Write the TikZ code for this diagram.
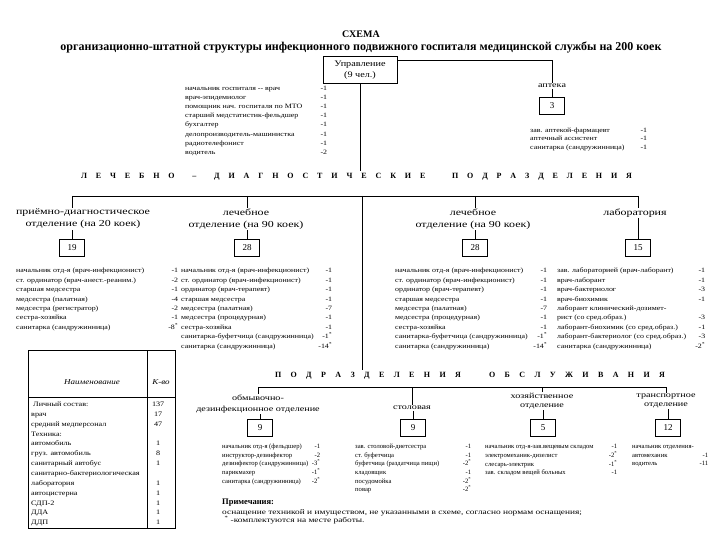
\documentclass[tikz,border=0pt]{standalone}
\usepackage{fontspec}
\usepackage{array}
\setmainfont{Liberation Serif}
\newfontfamily\wfont[FakeStretch=1.2]{Liberation Serif}
\newfontfamily\wwfont[FakeStretch=1.3]{Liberation Serif}
\newcolumntype{R}[1]{>{\raggedleft\arraybackslash}p{#1}}
\newcommand{\st}{\textsuperscript{*}}
\tikzset{
  nbox/.style={draw, line width=0.7pt, minimum width=25pt, minimum height=17pt, inner sep=0pt, font=\fontsize{9}{10}\selectfont},
  lbl/.style={font=\wwfont\fontsize{9.2}{12}\selectfont, align=center, inner sep=1pt},
  slbl/.style={font=\wwfont\fontsize{7.8}{11}\selectfont, align=center, inner sep=1pt},
  lst/.style={font=\wfont\fontsize{6.6}{9.4}\selectfont, anchor=north west, inner sep=0pt},
  slst/.style={font=\fontsize{6.6}{8.5}\selectfont, anchor=north west, inner sep=0pt},
  hdr/.style={font=\fontsize{8}{10}\selectfont\bfseries, inner sep=2pt},
  ln/.style={line width=0.6pt},
}
\begin{document}
\begin{tikzpicture}[x=1pt,y=-1pt]
\useasboundingbox (0,0) rectangle (720,540);
\fill[white] (0,0) rectangle (720,540);

% title
\node[font=\fontsize{10}{12}\selectfont\bfseries] (title) at (361,34) {СХЕМА};
\node[font=\fontsize{12}{14}\selectfont\bfseries] (subtitle) at (361,48) {организационно-штатной структуры инфекционного подвижного госпиталя медицинской службы на 200 коек};

% management
\node[draw, line width=0.7pt, minimum width=74pt, minimum height=27pt, align=center, font=\wfont\fontsize{8.5}{11}\selectfont, inner sep=0pt] (upr) at (360,70) {Управление\\(9 чел.)};
\node[lst, font=\wfont\fontsize{6.6}{9.2}\selectfont] (uprlist) at (185,83.5) {\begin{tabular}{@{}p{128pt}@{}R{14pt}@{}}
начальник госпиталя -- врач & -1\\
врач-эпидемиолог & -1\\
помощник нач. госпиталя по МТО & -1\\
старший медстатистик-фельдшер & -1\\
бухгалтер & -1\\
делопроизводитель-машинистка & -1\\
радиотелефонист & -1\\
водитель & -2
\end{tabular}};

\node[slbl] (apt) at (552,86) {аптека};
\node[nbox] (b3) at (552,106) {3};
\draw[ln] ([yshift=-4pt]upr.north east) -| (apt.north);
\draw[ln] (apt.south) -- (b3.north);
\node[lst, font=\wfont\fontsize{6.6}{8.6}\selectfont] (aptlist) at (530,126) {\begin{tabular}{@{}p{103pt}@{}R{14pt}@{}}
зав. аптекой-фармацевт & -1\\
аптечный ассистент & -1\\
санитарка (сандружинница) & -1
\end{tabular}};

% header 1
\node[hdr] (hdr1) at (356.5,177) {\hbox to 551pt{Л\hfil Е\hfil Ч\hfil Е\hfil Б\hfil Н\hfil О\hfil\hfil –\hfil\hfil Д\hfil И\hfil А\hfil Г\hfil Н\hfil О\hfil С\hfil Т\hfil И\hfil Ч\hfil Е\hfil С\hfil К\hfil И\hfil Е\hfil\hfil\hfil П\hfil О\hfil Д\hfil Р\hfil А\hfil З\hfil Д\hfil Е\hfil Л\hfil Е\hfil Н\hfil И\hfil Я}};
\draw[ln] (upr.south) -- (upr.south |- hdr1.north);

\coordinate (h1) at (72,196);
\coordinate (h2) at (247,196);
\coordinate (hm) at (362,196);
\coordinate (h3) at (475,196);
\coordinate (h4) at (638,196);
\draw[ln] (h1) -- (h4);

% column labels
\node[lbl] (lab1) at (83,219) {приёмно-диагностическое\\отделение (на 20 коек)};
\node[lbl] (lab2) at (246,219) {лечебное\\отделение (на 90 коек)};
\node[lbl] (lab3) at (473,219) {лечебное\\отделение (на 90 коек)};
\node[lbl] (lab4) at (635,213) {лаборатория};
\draw[ln] (h1) -- (h1 |- lab1.north);
\draw[ln] (h2) -- (h2 |- lab2.north);
\draw[ln] (h3) -- (h3 |- lab3.north);
\draw[ln] (h4) -- (h4 |- lab4.north);

\node[nbox] (b19) at (72,248) {19};
\node[nbox] (b28a) at (247,248) {28};
\node[nbox] (b28b) at (475,248) {28};
\node[nbox] (b15) at (638,248) {15};
\draw[ln] (b19.north |- lab1.south) -- (b19.north);
\draw[ln] (b28a.north |- lab2.south) -- (b28a.north);
\draw[ln] (b28b.north |- lab3.south) -- (b28b.north);
\draw[ln] (b15.north |- lab4.south) -- (b15.north);

% column lists
\node[lst] (list19) at (16,266.2) {\begin{tabular}{@{}p{148pt}@{}R{14pt}@{}}
начальник отд-я (врач-инфекционист) & -1\\
ст. ординатор (врач-анест.-реаним.) & -2\\
старшая медсестра & -1\\
медсестра (палатная) & -4\\
медсестра (регистратор) & -2\\
сестра-хозяйка & -1\\
санитарка (сандружинница) & -8\st
\end{tabular}};

\node[lst] (list28a) at (181,266.2) {\begin{tabular}{@{}p{136pt}@{}R{15pt}@{}}
начальник отд-я (врач-инфекционист) & -1\\
ст. ординатор (врач-инфекционист) & -1\\
ординатор (врач-терапевт) & -1\\
старшая медсестра & -1\\
медсестра (палатная) & -7\\
медсестра (процедурная) & -1\\
сестра-хозяйка & -1\\
санитарка-буфетчица (сандружинница) & -1\st\\
санитарка (сандружинница) & -14\st
\end{tabular}};

\node[lst] (list28b) at (395,266.2) {\begin{tabular}{@{}p{137pt}@{}R{15pt}@{}}
начальник отд-я (врач-инфекционист) & -1\\
ст. ординатор (врач-инфекционист) & -1\\
ординатор (врач-терапевт) & -1\\
старшая медсестра & -1\\
медсестра (палатная) & -7\\
медсестра (процедурная) & -1\\
сестра-хозяйка & -1\\
санитарка-буфетчица (сандружинница) & -1\st\\
санитарка (сандружинница) & -14\st
\end{tabular}};

\node[lst] (list15) at (557,266.2) {\begin{tabular}{@{}p{137pt}@{}R{11pt}@{}}
зав. лабораторией (врач-лаборант) & -1\\
врач-лаборант & -1\\
врач-бактериолог & -3\\
врач-биохимик & -1\\
лаборант клинический-дозимет- & \\
рист (со сред.образ.) & -3\\
лаборант-биохимик (со сред.образ.) & -1\\
лаборант-бактериолог (со сред.образ.) & -3\\
санитарка (сандружинница) & -2\st
\end{tabular}};

% table
\node[inner sep=0pt, minimum width=147pt, minimum height=178pt, draw, line width=0.7pt, anchor=north west] (tbl) at (28,350) {};
\coordinate (tsep) at (147,350);
\coordinate (thl) at (28,397);
\draw[line width=0.7pt] (tsep) -- (tsep |- tbl.south);
\draw[line width=0.9pt] (thl) -- (thl -| tbl.east);
\node[font=\wfont\fontsize{7.5}{9}\selectfont\itshape] (thname) at (92,382) {Наименование};
\node[font=\wfont\fontsize{7.5}{9}\selectfont\itshape] (thqty) at (161,382) {К-во};
\node[lst, font=\wfont\fontsize{6.8}{9.85}\selectfont] (tbody) at (31,399.5) {\begin{tabular}{@{}p{112pt}@{}>{\centering\arraybackslash}p{30pt}@{}}
\ Личный состав: & 137\\
врач & 17\\
средний медперсонал & 47\\
Техника: & \\
автомобиль & 1\\
груз. автомобиль & 8\\
санитарный автобус & 1\\
санитарно-бактериологическая & \\
лаборатория & 1\\
автоцистерна & 1\\
СДП-2 & 1\\
ДДА & 1\\
ДДП & 1
\end{tabular}};

% header 2
\node[hdr] (hdr2) at (470,376) {\hbox to 390pt{П\hfil О\hfil Д\hfil Р\hfil А\hfil З\hfil Д\hfil Е\hfil Л\hfil Е\hfil Н\hfil И\hfil Я\hfil\hfil\hfil О\hfil Б\hfil С\hfil Л\hfil У\hfil Ж\hfil И\hfil В\hfil А\hfil Н\hfil И\hfil Я}};
\draw[ln] (hm) -- (hm |- hdr2.north);

\coordinate (g1) at (258,387);
\coordinate (g2) at (412,387);
\coordinate (g3) at (542,387);
\coordinate (g4) at (666,387);
\draw[ln] (g1) -- (g4);

\node[slbl] (sl1) at (258,404) {обмывочно-\\дезинфекционное отделение};
\node[slbl] (sl2) at (412,408) {столовая};
\node[slbl, font=\wwfont\fontsize{7.8}{9}\selectfont] (sl3) at (542,401) {хозяйственное\\отделение};
\node[slbl, font=\wwfont\fontsize{7.8}{9}\selectfont] (sl4) at (666,401) {транспортное\\отделение};
\draw[ln] (g1) -- (g1 |- sl1.north);
\draw[ln] (g2) -- (g2 |- sl2.north);
\draw[ln] (g3) -- (g3 |- sl3.north);
\draw[ln] (g4) -- (g4 |- sl4.north);

\node[nbox] (s9a) at (260,428) {9};
\node[nbox] (s9b) at (413,428) {9};
\node[nbox] (s5) at (543,428) {5};
\node[nbox] (s12) at (668,428) {12};
\draw[ln] (s9a.north |- sl1.south) -- (s9a.north);
\draw[ln] (s9b.north |- sl2.south) -- (s9b.north);
\draw[ln] (s5.north |- sl3.south) -- (s5.north);
\draw[ln] (s12.north |- sl4.south) -- (s12.north);

\node[slst] (sl1list) at (222,442.7) {\begin{tabular}{@{}p{86pt}@{}R{12pt}@{}}
начальник отд-я (фельдшер) & -1\\
инструктор-дезинфектор & -2\\
дезинфектор (сандружинница) & -3\st\\
парикмахер & -1\st\\
санитарка (сандружинница) & -2\st
\end{tabular}};

\node[slst] (sl2list) at (355,442.7) {\begin{tabular}{@{}p{102pt}@{}R{14pt}@{}}
зав. столовой-диетсестра & -1\\
ст. буфетчица & -1\\
буфетчица (раздатчица пищи) & -2\st\\
кладовщик & -1\\
посудомойка & -2\st\\
повар & -2\st
\end{tabular}};

\node[slst] (sl3list) at (485,442.7) {\begin{tabular}{@{}p{118pt}@{}R{14pt}@{}}
начальник отд-я-зав.вещевым складом & -1\\
электромеханик-дизелист & -2\st\\
слесарь-электрик & -1\st\\
зав. складом вещей больных & -1
\end{tabular}};

\node[slst] (sl4list) at (632,442.7) {\begin{tabular}{@{}p{62pt}@{}R{14pt}@{}}
начальник отделения- & \\
автомеханик & -1\\
водитель & -11
\end{tabular}};

% notes
\node[anchor=west, inner sep=0pt, font=\fontsize{8.5}{10}\selectfont\bfseries] (notes) at (222,503) {Примечания:};
\node[anchor=north west, inner sep=0pt, align=left, font=\wwfont\fontsize{7.2}{8}\selectfont] (notetext) at (222,509) {оснащение техникой и имуществом, не указанными в схеме, согласно нормам оснащения;\\\ \st\ -комплектуются на месте работы.};
\end{tikzpicture}
\end{document}
